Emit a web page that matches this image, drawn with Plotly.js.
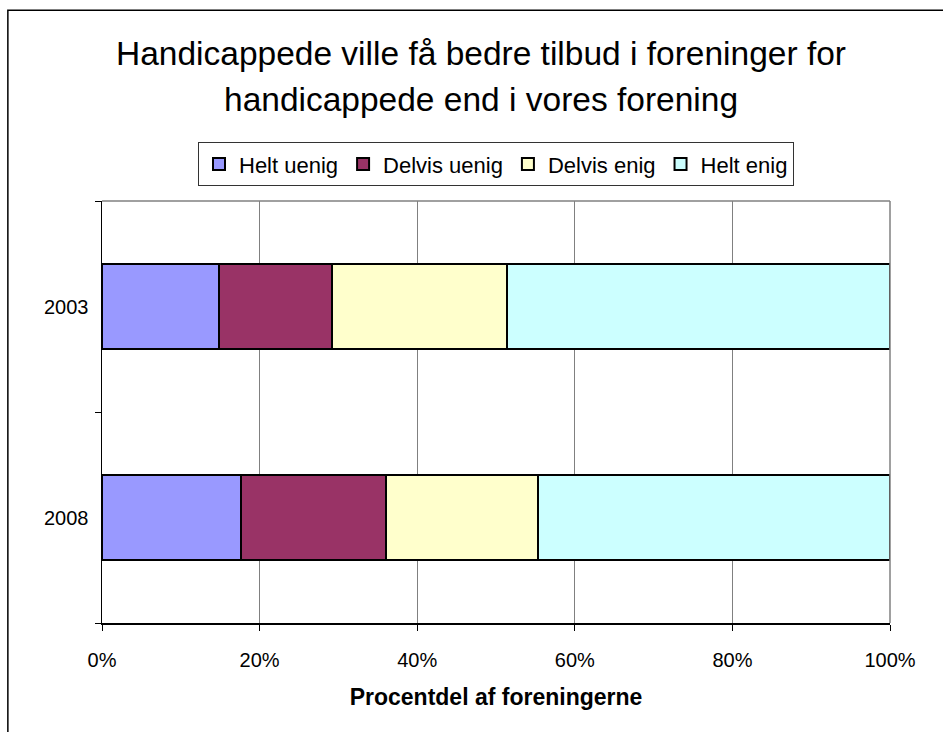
<!DOCTYPE html>
<html>
<head>
<meta charset="utf-8">
<script src="https://cdn.plot.ly/plotly-3.0.1.min.js"></script>
<style>html,body{margin:0;padding:0;background:#fff;}#chart{width:943px;height:732px;}</style>
</head>
<body>
<div id="chart"></div>
<script>
const years = ['2003', '2008'];
const seriesNames = ['Helt uenig', 'Delvis uenig', 'Delvis enig', 'Helt enig'];
const heltUenig = [14.9, 17.6];
const delvisUenig = [14.3, 18.4];
const delvisEnig = [22.2, 19.3];
const heltEnig = [48.6, 44.7];
const xTickVals = [0, 20, 40, 60, 80, 100];
const xTickText = ['0%', '20%', '40%', '60%', '80%', '100%'];
const titleLines = ['Handicappede ville få bedre tilbud i foreninger for', 'handicappede end i vores forening'];
const xTitle = 'Procentdel af foreningerne';

const colors = ['#9999FF', '#993366', '#FFFFCC', '#CCFFFF'];
const values = [heltUenig, delvisUenig, delvisEnig, heltEnig];
const FONT = 'Liberation Sans, Arial, Helvetica, sans-serif';

const traces = seriesNames.map((name, i) => ({
  type: 'bar',
  orientation: 'h',
  name: name,
  y: years,
  x: values[i],
  marker: {color: colors[i], line: {color: '#000', width: 2}},
  hoverinfo: 'x+name'
}));

const W = 943, H = 732;
const L = 101.5, R = 890, T = 200.7, B = 622.7;
const pw = R - L, ph = B - T;
const px = v => (v - L) / pw;
const py = v => (B - v) / ph;

const layout = {
  width: W, height: H,
  margin: {l: L, r: W - R, t: T, b: H - B, pad: 0},
  paper_bgcolor: '#fff', plot_bgcolor: '#fff',
  font: {family: FONT, color: '#000', size: 20},
  barmode: 'stack',
  bargap: 0.6,
  showlegend: true,
  legend: {
    orientation: 'h', x: 0.5, xanchor: 'center', y: py(142), yanchor: 'top',
    bordercolor: '#333', borderwidth: 1, font: {size: 22, family: FONT},
    traceorder: 'normal', itemwidth: 30, tracegroupgap: 0
  },
  xaxis: {
    range: [0, 100], tickvals: xTickVals, ticktext: xTickText,
    showgrid: true, gridcolor: '#808080', gridwidth: 1,
    showline: true, linecolor: '#000', linewidth: 1.5,
    ticks: 'outside', ticklen: 6, tickcolor: '#000', tickwidth: 1,
    tickfont: {size: 20, family: FONT}, ticklabelstandoff: 12,
    zeroline: false, fixedrange: true,
    title: {text: '<b>' + xTitle + '</b>', font: {size: 23, family: FONT}, standoff: 19}
  },
  yaxis: {
    type: 'category', categoryorder: 'array', categoryarray: ['2008', '2003'],
    showgrid: false, showline: true, linecolor: '#000', linewidth: 1.5,
    ticks: 'outside', ticklen: 6, tickcolor: '#000', tickwidth: 1, tickson: 'boundaries',
    tickfont: {size: 20, family: FONT}, ticklabelstandoff: 8,
    zeroline: false, fixedrange: true
  },
  shapes: [
    {type: 'line', xref: 'paper', yref: 'paper', x0: 0, x1: 1, y0: 1, y1: 1, line: {color: '#808080', width: 1.5}},
    {type: 'line', xref: 'paper', yref: 'paper', x0: 1, x1: 1, y0: 0, y1: 1, line: {color: '#808080', width: 1.5}},
    {type: 'rect', xref: 'paper', yref: 'paper', x0: px(7.3), x1: px(960), y0: py(760), y1: py(10), line: {color: '#000', width: 1.5}, layer: 'below'}
  ],
  annotations: [
    {text: titleLines[0], xref: 'paper', yref: 'paper', x: px(481), y: py(53), xanchor: 'center', yanchor: 'middle', showarrow: false, font: {size: 33.5, family: FONT}},
    {text: titleLines[1], xref: 'paper', yref: 'paper', x: px(481), y: py(99), xanchor: 'center', yanchor: 'middle', showarrow: false, font: {size: 33.5, family: FONT}}
  ]
};

Plotly.newPlot('chart', traces, layout, {displayModeBar: false, staticPlot: true});
</script>
</body>
</html>
